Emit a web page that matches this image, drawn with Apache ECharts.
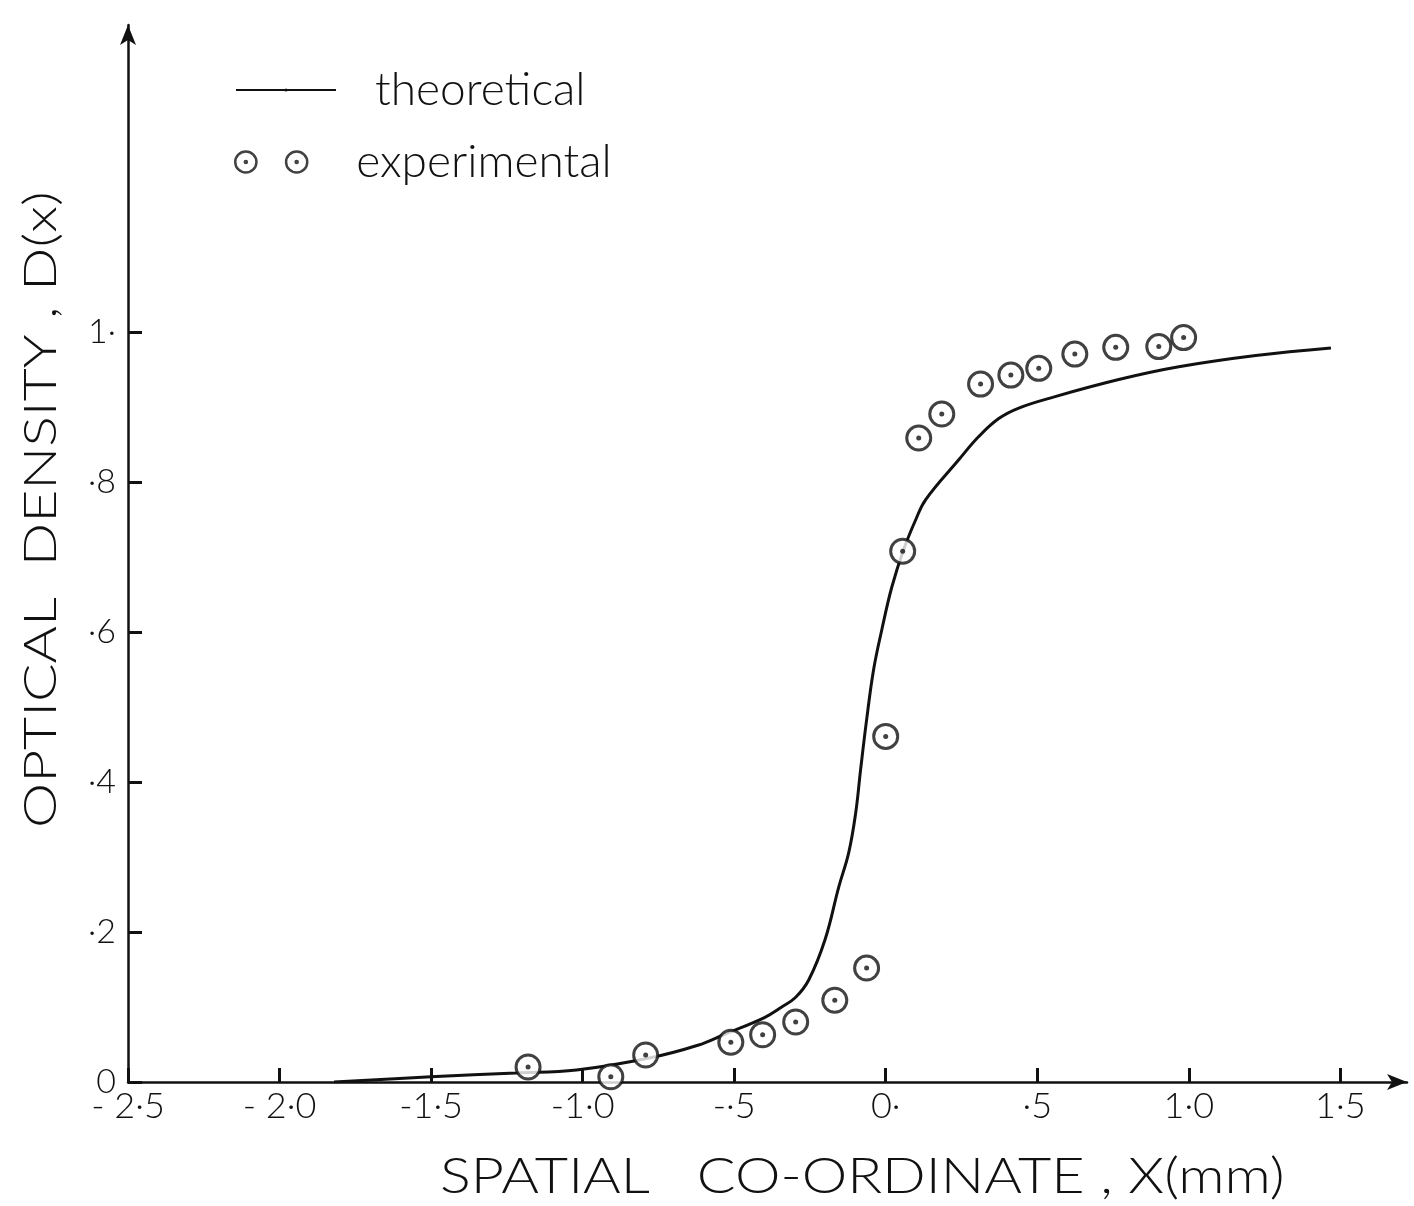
<!DOCTYPE html>
<html>
<head>
<meta charset="utf-8">
<script src="https://cdn.jsdelivr.net/npm/echarts@6/dist/echarts.min.js"></script>
<style>
  html, body { margin: 0; padding: 0; background: #fff; }
  #chart { width: 1414px; height: 1206px; }
</style>
</head>
<body>
<div id="chart"></div>
<script>
// theoretical curve, [x (mm), D(x)]
const theoreticalCurve = [
  [-1.82, 0.0], [-1.5, 0.007], [-1.22, 0.012], [-1.02, 0.016], [-0.78, 0.032],
  [-0.62, 0.049], [-0.53, 0.064], [-0.40, 0.086], [-0.343, 0.1], [-0.297, 0.113],
  [-0.254, 0.136], [-0.20, 0.19], [-0.155, 0.26], [-0.122, 0.306], [-0.099, 0.359],
  [-0.083, 0.416], [-0.063, 0.483], [-0.04, 0.55], [-0.013, 0.603], [0.02, 0.66],
  [0.059, 0.71], [0.099, 0.75], [0.132, 0.777], [0.241, 0.83], [0.307, 0.861],
  [0.373, 0.885], [0.439, 0.899], [0.548, 0.913], [0.769, 0.937], [0.967, 0.954],
  [1.221, 0.969], [1.469, 0.979]
]

// experimental points, [x (mm), D(x)]
const experimentalPoints = [
  [-1.18, 0.02], [-0.907, 0.007], [-0.792, 0.036], [-0.511, 0.053], [-0.406, 0.063],
  [-0.297, 0.08], [-0.168, 0.109], [-0.063, 0.152], [0.0, 0.461], [0.056, 0.708],
  [0.109, 0.859], [0.185, 0.891], [0.313, 0.931], [0.413, 0.943], [0.505, 0.952],
  [0.624, 0.971], [0.759, 0.98], [0.901, 0.981], [0.983, 0.993]
]

const xTickValues = [-2.5, -2.0, -1.5, -1.0, -0.5, 0, 0.5, 1.0, 1.5]
const xTickLabels = ['- 2·5', '- 2·0', '-1·5', '-1·0', '-·5', '0·', '·5', '1·0', '1·5']
const yTickValues = [0, 0.2, 0.4, 0.6, 0.8, 1.0]
const yTickLabels = ['0', '·2', '·4', '·6', '·8', '1·']

const ink = '#111'
const fontFamily = 'Lato, "DejaVu Sans", sans-serif'

const chart = echarts.init(document.getElementById('chart'), null, { renderer: 'canvas' })

// two ringed dots, used as the legend mark for the experimental points
const ringPairIcon = 'path://M1,11a10,10 0 1,0 20,0a10,10 0 1,0 -20,0Z' +
  'M10,11a1,1 0 1,0 2,0a1,1 0 1,0 -2,0Z' +
  'M49,11a10,10 0 1,0 20,0a10,10 0 1,0 -20,0Z' +
  'M58,11a1,1 0 1,0 2,0a1,1 0 1,0 -2,0Z'

const tickLabel = (values, labels) => v => {
  const i = values.findIndex(t => Math.abs(t - v) < 1e-6)
  return i >= 0 ? labels[i] : ''
}

const option = {
  backgroundColor: '#fff',
  animation: false,
  grid: {
    left: 128,
    right: 7,
    top: 25,
    bottom: 124,
    containLabel: false
  },
  legend: [{
    data: ['theoretical'],
    left: 230,
    top: 62,
    itemWidth: 100,
    itemHeight: 4,
    textStyle: {
      fontFamily,
      fontWeight: 300,
      fontSize: 46,
      color: ink,
      padding: [0, 0, 0, 34]
    }
  }, {
    data: [{
      name: 'experimental',
      icon: ringPairIcon,
      itemStyle: { color: '#fff', borderColor: ink, borderWidth: 2.5 }
    }],
    left: 229,
    top: 134,
    itemWidth: 72,
    itemHeight: 24,
    textStyle: {
      fontFamily,
      fontWeight: 300,
      fontSize: 46,
      color: ink,
      padding: [0, 0, 0, 44]
    }
  }],
  xAxis: {
    type: 'value',
    min: -2.5,
    max: 1.72,
    splitLine: { show: false },
    axisLine: {
      onZero: false,
      symbol: ['none', 'arrow'],
      symbolSize: [12, 20],
      lineStyle: { color: ink, width: 2.5 }
    },
    axisTick: {
      inside: true,
      length: 14,
      customValues: xTickValues,
      lineStyle: { color: ink, width: 3 }
    },
    axisLabel: {
      customValues: xTickValues,
      margin: 6,
      fontFamily,
      fontWeight: 300,
      fontSize: 36,
      color: ink,
      formatter: tickLabel(xTickValues, xTickLabels)
    }
  },
  yAxis: {
    type: 'value',
    min: 0,
    max: 1.41,
    splitLine: { show: false },
    axisLine: {
      onZero: false,
      symbol: ['none', 'arrow'],
      symbolSize: [12, 20],
      lineStyle: { color: ink, width: 2.5 }
    },
    axisTick: {
      inside: true,
      length: 14,
      customValues: yTickValues,
      lineStyle: { color: ink, width: 3 }
    },
    axisLabel: {
      customValues: yTickValues,
      margin: 12,
      fontFamily,
      fontWeight: 300,
      fontSize: 34,
      color: ink,
      formatter: tickLabel(yTickValues, yTickLabels)
    }
  },
  graphic: [{
    type: 'text',
    x: 440,
    y: 1152,
    scaleX: 1.15,
    style: {
      text: 'SPATIAL   CO-ORDINATE , X(mm)',
      font: '300 50px ' + fontFamily,
      fill: ink
    }
  }, {
    type: 'text',
    x: 18,
    y: 828,
    rotation: Math.PI / 2,
    scaleX: 1.24,
    style: {
      text: 'OPTICAL  DENSITY , D(x)',
      font: '300 46px ' + fontFamily,
      fill: ink
    }
  }],
  series: [{
    name: 'theoretical',
    type: 'line',
    data: theoreticalCurve,
    smooth: 0.4,
    symbol: 'none',
    lineStyle: { color: ink, width: 3 },
    itemStyle: { color: ink },
    z: 2
  }, {
    name: 'experimental',
    type: 'scatter',
    data: experimentalPoints,
    symbol: 'circle',
    symbolSize: 24,
    itemStyle: { color: '#fff', borderColor: ink, borderWidth: 3 },
    z: 3
  }, {
    name: 'experimentalCentre',
    type: 'scatter',
    data: experimentalPoints,
    symbol: 'circle',
    symbolSize: 5,
    itemStyle: { color: ink },
    silent: true,
    z: 4
  }]
}

chart.setOption(option)
</script>
</body>
</html>
